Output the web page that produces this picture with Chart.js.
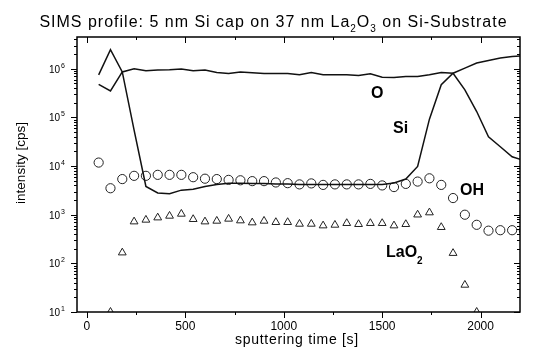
<!DOCTYPE html>
<html>
<head>
<meta charset="utf-8">
<script src="https://cdn.jsdelivr.net/npm/chart.js@4.4.1/dist/chart.umd.min.js"></script>
<style>
  html, body { margin: 0; padding: 0; background: #fff; }
</style>
</head>
<body>
<canvas id="sims" width="533" height="355"></canvas>
<script>
// sputtering time [s] for the Si, O and OH traces
const time = [60, 120, 180, 240, 300, 360, 420, 480, 540, 600, 660, 720, 780, 840, 900, 960, 1020, 1080, 1140, 1200,
  1260, 1320, 1380, 1440, 1500, 1560, 1620, 1680, 1740, 1800, 1860, 1920, 1980, 2040, 2100, 2160, 2220];

const siCps = [7.5e5, 2.46e6, 8.6e5, 5.5e4, 3.8e3, 2.8e3, 2.7e3, 3.2e3, 3.35e3, 3.8e3, 4.2e3, 4.45e3, 4.45e3, 4.4e3, 4.4e3, 4.3e3, 4.3e3, 4.2e3, 4.2e3, 4.2e3,
  4.2e3, 4.2e3, 4.2e3, 4.2e3, 4.2e3, 4.5e3, 5.4e3, 9.8e3, 9.2e4, 4.7e5, 8.1e5, 1.03e6, 1.31e6, 1.48e6, 1.66e6, 1.78e6, 1.85e6];

const oCps = [4.8e5, 3.5e5, 8.6e5, 1.0e6, 9.1e5, 9.4e5, 9.5e5, 9.9e5, 9.1e5, 9.4e5, 8.4e5, 8.0e5, 8.6e5, 8.3e5, 8.0e5, 8.0e5, 8.0e5, 7.5e5, 8.4e5, 7.5e5,
  7.5e5, 7.5e5, 7.3e5, 7.9e5, 6.7e5, 6.6e5, 6.9e5, 6.9e5, 7.5e5, 8.4e5, 8.1e5, 3.7e5, 1.32e5, 4.0e4, 2.5e4, 1.55e4, 1.3e4];

const ohCps = [1.18e4, 3.5e3, 5.4e3, 6.3e3, 6.3e3, 6.6e3, 6.6e3, 6.6e3, 5.9e3, 5.5e3, 5.4e3, 5.2e3, 5.1e3, 4.9e3, 4.9e3, 4.6e3, 4.45e3, 4.2e3, 4.4e3, 4.1e3,
  4.2e3, 4.2e3, 4.2e3, 4.3e3, 4.0e3, 3.7e3, 4.3e3, 4.8e3, 5.6e3, 4.1e3, 2.2e3, 1.0e3, 620, 470, 480, 480, 470];

// LaO2 is sampled on a shorter range
const laoTime = [120, 180, 240, 300, 360, 420, 480, 540, 600, 660, 720, 780, 840, 900, 960, 1020, 1080, 1140, 1200, 1260,
  1320, 1380, 1440, 1500, 1560, 1620, 1680, 1740, 1800, 1860, 1920, 1980];
const laoCps = [10, 166, 721, 782, 871, 944, 1038, 807, 721, 745, 820, 757, 689, 745, 700, 700, 646, 646, 597, 616,
  668, 637, 668, 668, 597, 637, 1000, 1107, 553, 162, 36, 10];

const xTicks = [0, 500, 1000, 1500, 2000];
const xMinorTicks = [250, 750, 1250, 1750];
const yExponents = [1, 2, 3, 4, 5, 6];

const FONT = "'Liberation Sans', Arial, Helvetica, sans-serif";

function pts(xs, ys) {
  return xs.map((t, i) => ({ x: t, y: ys[i] }));
}

// draws a run of [text, size, weight, dy] pieces starting at x
function drawRuns(ctx, runs, x, y) {
  runs.forEach(r => {
    ctx.font = (r[2] || 'normal') + ' ' + r[1] + 'px ' + FONT;
    ctx.fillText(r[0], x, y + (r[3] || 0));
    x += ctx.measureText(r[0]).width;
  });
}

function runsWidth(ctx, runs) {
  let w = 0;
  runs.forEach(r => {
    ctx.font = (r[2] || 'normal') + ' ' + r[1] + 'px ' + FONT;
    w += ctx.measureText(r[0]).width;
  });
  return w;
}

const axesPlugin = {
  id: 'originAxes',
  afterDatasetsDraw(chart) {
    const { ctx, chartArea: a, scales: { x, y } } = chart;
    ctx.save();
    ctx.strokeStyle = '#000';
    ctx.fillStyle = '#000';

    ctx.lineWidth = 1.5;
    ctx.strokeRect(a.left, a.top, a.right - a.left, a.bottom - a.top);

    ctx.lineWidth = 1;
    ctx.beginPath();
    // x ticks: outward at the bottom, inward at the top
    xTicks.forEach(v => {
      const px = Math.round(x.getPixelForValue(v)) + 0.5;
      ctx.moveTo(px, a.bottom); ctx.lineTo(px, a.bottom + 6);
      ctx.moveTo(px, a.top); ctx.lineTo(px, a.top + 6);
    });
    xMinorTicks.forEach(v => {
      const px = Math.round(x.getPixelForValue(v)) + 0.5;
      ctx.moveTo(px, a.bottom); ctx.lineTo(px, a.bottom + 3);
      ctx.moveTo(px, a.top); ctx.lineTo(px, a.top + 3);
    });
    // y ticks: outward at the left, inward at the right
    yExponents.forEach(e => {
      for (let m = 1; m <= 9; m++) {
        const v = m * Math.pow(10, e);
        if (v > y.max) break;
        const py = Math.round(y.getPixelForValue(v)) + 0.5;
        const len = m === 1 ? 6 : 3;
        ctx.moveTo(a.left, py); ctx.lineTo(a.left - len, py);
        ctx.moveTo(a.right, py); ctx.lineTo(a.right - len, py);
      }
    });
    ctx.stroke();

    // tick labels
    ctx.textBaseline = 'alphabetic';
    ctx.textAlign = 'center';
    ctx.font = '12px ' + FONT;
    xTicks.forEach(v => {
      ctx.fillText(String(v), x.getPixelForValue(v), 330);
    });
    yExponents.forEach(e => {
      const py = y.getPixelForValue(Math.pow(10, e));
      ctx.textAlign = 'right';
      ctx.font = '10px ' + FONT;
      ctx.fillText('10', 60, py + 4);
      ctx.textAlign = 'left';
      ctx.font = '7px ' + FONT;
      ctx.fillText(String(e), 61, py - 1);
    });

    // axis titles
    ctx.textAlign = 'center';
    ctx.textBaseline = 'middle';
    ctx.letterSpacing = '0.7px';
    ctx.font = '14px ' + FONT;
    ctx.fillText('sputtering time [s]', 297, 340);
    ctx.letterSpacing = '0px';
    ctx.save();
    ctx.translate(21, 163);
    ctx.rotate(-Math.PI / 2);
    ctx.font = '13.5px ' + FONT;
    ctx.fillText('intensity [cps]', 0, 0);
    ctx.restore();

    // title with subscripts
    const title = [['SIMS profile: 5 nm Si cap on 37 nm La', 16], ['2', 10, 'normal', 5], ['O', 16], ['3', 10, 'normal', 5], [' on Si-Substrate', 16]];
    ctx.textAlign = 'left';
    ctx.textBaseline = 'alphabetic';
    ctx.letterSpacing = '1px';
    const tw = runsWidth(ctx, title);
    drawRuns(ctx, title, 273.5 - tw / 2, 27);
    ctx.letterSpacing = '0px';

    // series labels
    ctx.textBaseline = 'middle';
    drawRuns(ctx, [['O', 16, 'bold']], 371, 94);
    drawRuns(ctx, [['Si', 16, 'bold']], 393, 129);
    drawRuns(ctx, [['OH', 16, 'bold']], 460, 191);
    drawRuns(ctx, [['LaO', 16, 'bold'], ['2', 10, 'bold', 8]], 386, 253);

    ctx.restore();
  }
};

new Chart(document.getElementById('sims'), {
  type: 'line',
  data: {
    datasets: [
      {
        label: 'Si',
        data: pts(time, siCps),
        borderColor: '#111',
        borderWidth: 1.5,
        pointRadius: 0,
        tension: 0
      },
      {
        label: 'O',
        data: pts(time, oCps),
        borderColor: '#111',
        borderWidth: 1.5,
        pointRadius: 0,
        tension: 0
      },
      {
        label: 'OH',
        data: pts(time, ohCps),
        showLine: false,
        pointStyle: 'circle',
        pointRadius: 4.6,
        pointBorderWidth: 1,
        pointBorderColor: '#222',
        pointBackgroundColor: 'rgba(0,0,0,0)'
      },
      {
        label: 'LaO2',
        data: pts(laoTime, laoCps),
        showLine: false,
        pointStyle: 'triangle',
        pointRadius: 4.5,
        pointBorderWidth: 1,
        pointBorderColor: '#222',
        pointBackgroundColor: 'rgba(0,0,0,0)'
      }
    ]
  },
  options: {
    responsive: false,
    animation: false,
    devicePixelRatio: 1,
    layout: { padding: { left: 77, right: 13, top: 37, bottom: 43 } },
    plugins: {
      legend: { display: false },
      tooltip: { enabled: false }
    },
    scales: {
      x: { type: 'linear', min: -50, max: 2200, display: false },
      y: { type: 'logarithmic', min: 10, max: 4.5e6, display: false }
    }
  },
  plugins: [axesPlugin]
});
</script>
</body>
</html>
